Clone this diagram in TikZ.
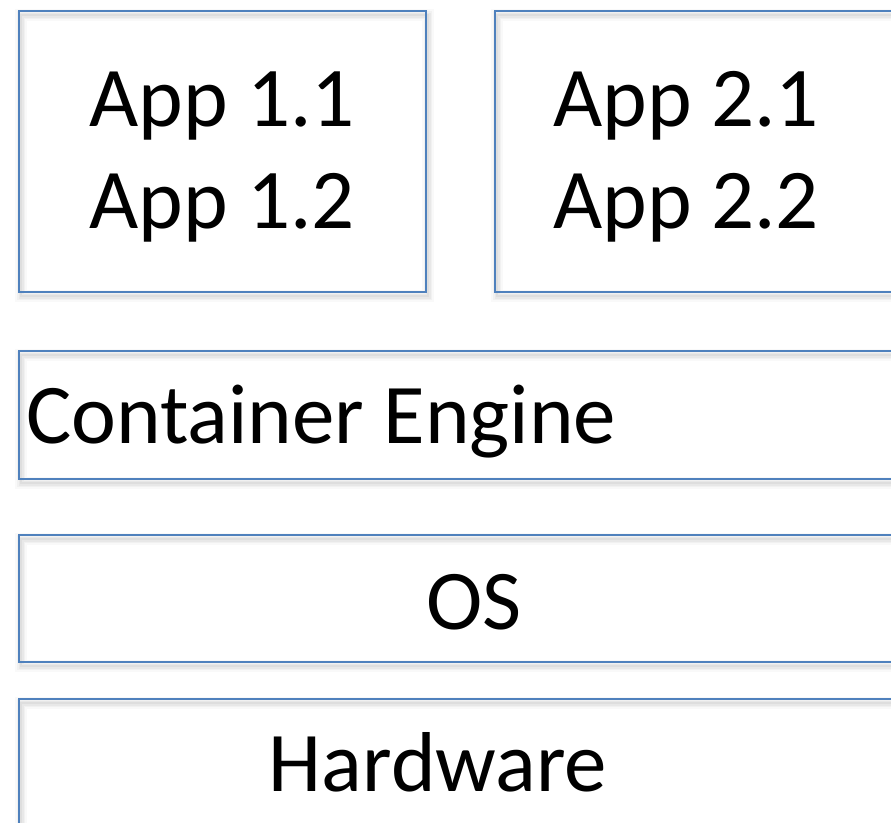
\documentclass[tikz,border=0pt]{standalone}
\usepackage{fontspec}
\setmainfont{Carlito}
\definecolor{boxblue}{HTML}{4F81BD}
\tikzset{
  layerbox/.style={draw=boxblue, line width=2.4pt, fill=none, inner sep=0pt},
  shadowline/.style={draw=black, opacity=#1},
  lbl/.style={inner sep=0pt, anchor=base, font=\fontsize{85}{100}\selectfont},
}
\newcommand{\softshadow}[2]{%
  \begin{scope}[shift={(2,4)}]
    \draw[shadowline=0.025, line width=12pt] (#1) rectangle (#2);
    \draw[shadowline=0.03, line width=8pt] (#1) rectangle (#2);
    \draw[shadowline=0.035, line width=5pt] (#1) rectangle (#2);
    \draw[shadowline=0.04, line width=2.5pt] (#1) rectangle (#2);
  \end{scope}}
\begin{document}
\begin{tikzpicture}[x=1pt,y=-1pt]
\useasboundingbox (0,0) rectangle (891,822);
\clip (0,0) rectangle (891,822);
\fill[white] (0,0) rectangle (891,822);
% shadows
\softshadow{19,11}{426,292}
\softshadow{495,11}{902,292}
\softshadow{19,351}{950,479}
\softshadow{19,535}{950,662}
\softshadow{19,699}{950,880}
% boxes
\coordinate (a1tl) at (19,11);  \coordinate (a1br) at (426,292);
\coordinate (a2tl) at (495,11); \coordinate (a2br) at (902,292);
\coordinate (cetl) at (19,351); \coordinate (cebr) at (950,479);
\coordinate (ostl) at (19,535); \coordinate (osbr) at (950,662);
\coordinate (hwtl) at (19,699); \coordinate (hwbr) at (950,880);
\draw[layerbox] (a1tl) rectangle (a1br);
\draw[layerbox] (a2tl) rectangle (a2br);
\draw[layerbox] (cetl) rectangle (cebr);
\draw[layerbox] (ostl) rectangle (osbr);
\draw[layerbox] (hwtl) rectangle (hwbr);
% labels
\node[lbl] (t11) at (222,126) {App 1.1};
\node[lbl] (t12) at (222,228) {App 1.2};
\node[lbl] (t21) at (686,126) {App 2.1};
\node[lbl] (t22) at (686,228) {App 2.2};
\node[lbl, anchor=base west] (tce) at (26,443) {Container Engine};
\node[lbl] (tos) at (474,629) {OS};
\node[lbl] (thw) at (438,791) {Hardware};
\end{tikzpicture}
\end{document}
